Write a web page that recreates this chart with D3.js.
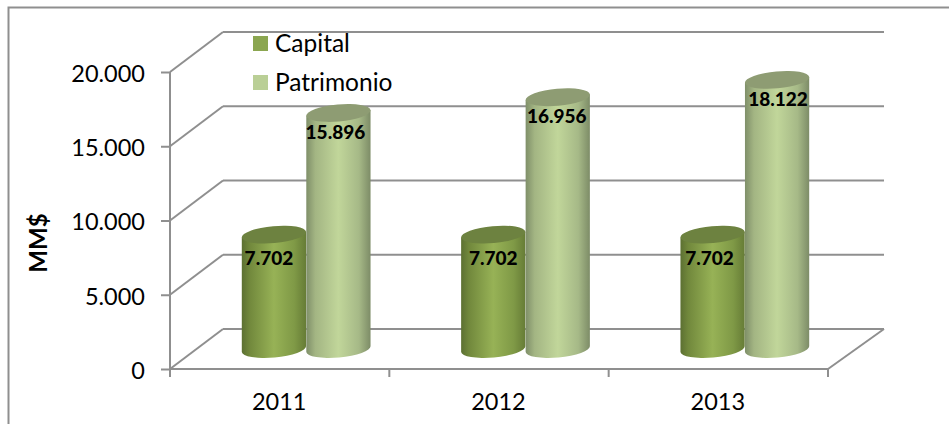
<!DOCTYPE html>
<html>
<head>
<meta charset="utf-8">
<script src="https://cdn.jsdelivr.net/npm/d3@7/dist/d3.min.js"></script>
<style>
html,body{margin:0;padding:0;background:#fff;}
svg{display:block;}
text{font-family:Lato,"Open Sans",sans-serif;fill:#000;}
</style>
</head>
<body>
<svg id="chart" width="949" height="424"></svg>
<script>
// Chart data
const years = ["2011", "2012", "2013"];
const capital = [7702, 7702, 7702];
const patrimonio = [15896, 16956, 18122];
const seriesNames = ["Capital", "Patrimonio"];
const yTicks = [0, 5000, 10000, 15000, 20000];
const axisTitle = "MM$";

// Small per-label shifts so the value labels sit off-centre on their cylinders
const labelShiftX = [[-5, 0, -3], [-3, -1, 1]];

const svg = d3.select("#chart");
const gridColor = "#8f8f8f";

// Projection of the oblique 3D box
const depthX = 53, depthY = -40;
const wallRight = 884;
const y = d3.scaleLinear().domain([0, 20000]).range([369, 72]);
const x = d3.scaleBand().domain(years).range([170, 828]);
const series = d3.scaleBand().domain(seriesNames).range([0, 129]);
const es = d3.formatLocale({decimal: ",", thousands: ".", grouping: [3], currency: ["$", ""]});
const fmt = es.format(",");

const defs = svg.append("defs");
function sideGradient(id, stops) {
  const g = defs.append("linearGradient").attr("id", id);
  stops.forEach(([o, c]) => g.append("stop").attr("offset", o).attr("stop-color", c));
}
sideGradient("capitalSide", [[0, "#5c7032"], [0.12, "#71883c"], [0.5, "#97b256"], [0.82, "#7f9946"], [1, "#667c36"]]);
sideGradient("patrimonioSide", [[0, "#7f8f69"], [0.14, "#a3b583"], [0.5, "#c1d69a"], [0.82, "#a6b987"], [1, "#7d8c67"]]);
const topColor = {Capital: "#6d8240", Patrimonio: "#8e9c73"};
const swatchColor = {Capital: "#8ba650", Patrimonio: "#bacf96"};

// Outer frame of the chart area
svg.append("path")
  .attr("d", "M8.5,424V7.5H949")
  .attr("fill", "none").attr("stroke", gridColor).attr("stroke-width", 2);

// Back wall gridlines and side wall diagonals
const grid = svg.append("g").attr("fill", "none").attr("stroke", gridColor).attr("stroke-width", 2);
grid.selectAll("line.back").data(yTicks).join("line").attr("class", "back")
  .attr("x1", 170 + depthX).attr("x2", wallRight)
  .attr("y1", d => y(d) + depthY).attr("y2", d => y(d) + depthY);
grid.selectAll("line.side").data(yTicks).join("line").attr("class", "side")
  .attr("x1", 170).attr("x2", 170 + depthX)
  .attr("y1", d => y(d)).attr("y2", d => y(d) + depthY);
grid.append("line")
  .attr("x1", 828).attr("x2", wallRight)
  .attr("y1", y(0)).attr("y2", y(0) + depthY);

// Axes
const yAxis = d3.axisLeft(y).tickValues(yTicks).tickFormat(fmt).tickSize(9).tickPadding(16);
const gy = svg.append("g").attr("transform", "translate(170,0)").call(yAxis);
gy.select(".domain").attr("d", "M0,72V377").attr("stroke", gridColor).attr("stroke-width", 2);
gy.selectAll(".tick line").attr("stroke", gridColor).attr("stroke-width", 2);
gy.selectAll(".tick text").attr("font-size", 23.5).attr("dy", "0.4em")
  .style("font-family", "Lato").attr("fill", "#000");

const xEdges = years.map(d => x(d)).concat([828]);
const gx = svg.append("g");
gx.append("line").attr("x1", 170).attr("x2", 828).attr("y1", y(0)).attr("y2", y(0))
  .attr("stroke", gridColor).attr("stroke-width", 2);
gx.selectAll("line.tick").data(xEdges).join("line").attr("class", "tick")
  .attr("x1", d => d).attr("x2", d => d).attr("y1", y(0)).attr("y2", y(0) + 8)
  .attr("stroke", gridColor).attr("stroke-width", 2);
gx.selectAll("text").data(years).join("text")
  .attr("x", d => x(d) + x.bandwidth() / 2 - 0.5).attr("y", 410)
  .attr("text-anchor", "middle").attr("font-size", 23.5)
  .text(d => d);

// Axis title
svg.append("text")
  .attr("transform", "translate(47,243) rotate(-90)")
  .attr("text-anchor", "middle").attr("font-size", 24).attr("font-weight", 700)
  .text(axisTitle);

// Cylinders: a shaded body with a darker, slightly tilted top ellipse
const tilt = -0.09;
const ry = 8.5;
function cylinder(cx, topY, baseY, r, side, top) {
  const dx = r * Math.cos(tilt), dy = r * Math.sin(tilt);
  const deg = tilt * 180 / Math.PI;
  svg.append("path")
    .attr("d", `M${cx - dx},${topY - dy}L${cx - dx},${baseY - dy}` +
      `A${r},${ry} ${deg} 0 0 ${cx + dx},${baseY + dy}L${cx + dx},${topY + dy}Z`)
    .attr("fill", side);
  svg.append("ellipse")
    .attr("cx", cx).attr("cy", topY).attr("rx", r).attr("ry", ry)
    .attr("transform", `rotate(${deg} ${cx} ${topY})`)
    .attr("fill", top);
}

const cylinderX = (year, name) =>
  x(year) + x.bandwidth() / 2 + depthX / 2 + series(name) + series.bandwidth() / 2 - series.bandwidth();
const midY = v => y(v) + depthY / 2;

[[seriesNames[0], capital, "capitalSide"], [seriesNames[1], patrimonio, "patrimonioSide"]]
  .forEach(([name, values, grad]) => {
    years.forEach((yr, i) => {
      cylinder(cylinderX(yr, name), midY(values[i]), midY(0), series.bandwidth() / 2,
        `url(#${grad})`, topColor[name]);
    });
  });

// Value labels
[capital, patrimonio].forEach((values, s) => {
  years.forEach((yr, i) => {
    svg.append("text")
      .attr("x", cylinderX(yr, seriesNames[s]) + labelShiftX[s][i])
      .attr("y", midY(values[i]) + (s === 0 ? 30 : 26))
      .attr("text-anchor", "middle").attr("font-size", 19).attr("font-weight", 900)
      .text(fmt(values[i]));
  });
});

// Legend
const legend = svg.append("g");
seriesNames.forEach((name, i) => {
  const ly = 36 + i * 39;
  legend.append("rect").attr("x", 253).attr("y", ly).attr("width", 15).attr("height", 15)
    .attr("fill", swatchColor[name]);
  legend.append("text").attr("x", 275).attr("y", ly + 15.5)
    .attr("font-size", 24.5).text(name);
});
</script>
</body>
</html>
